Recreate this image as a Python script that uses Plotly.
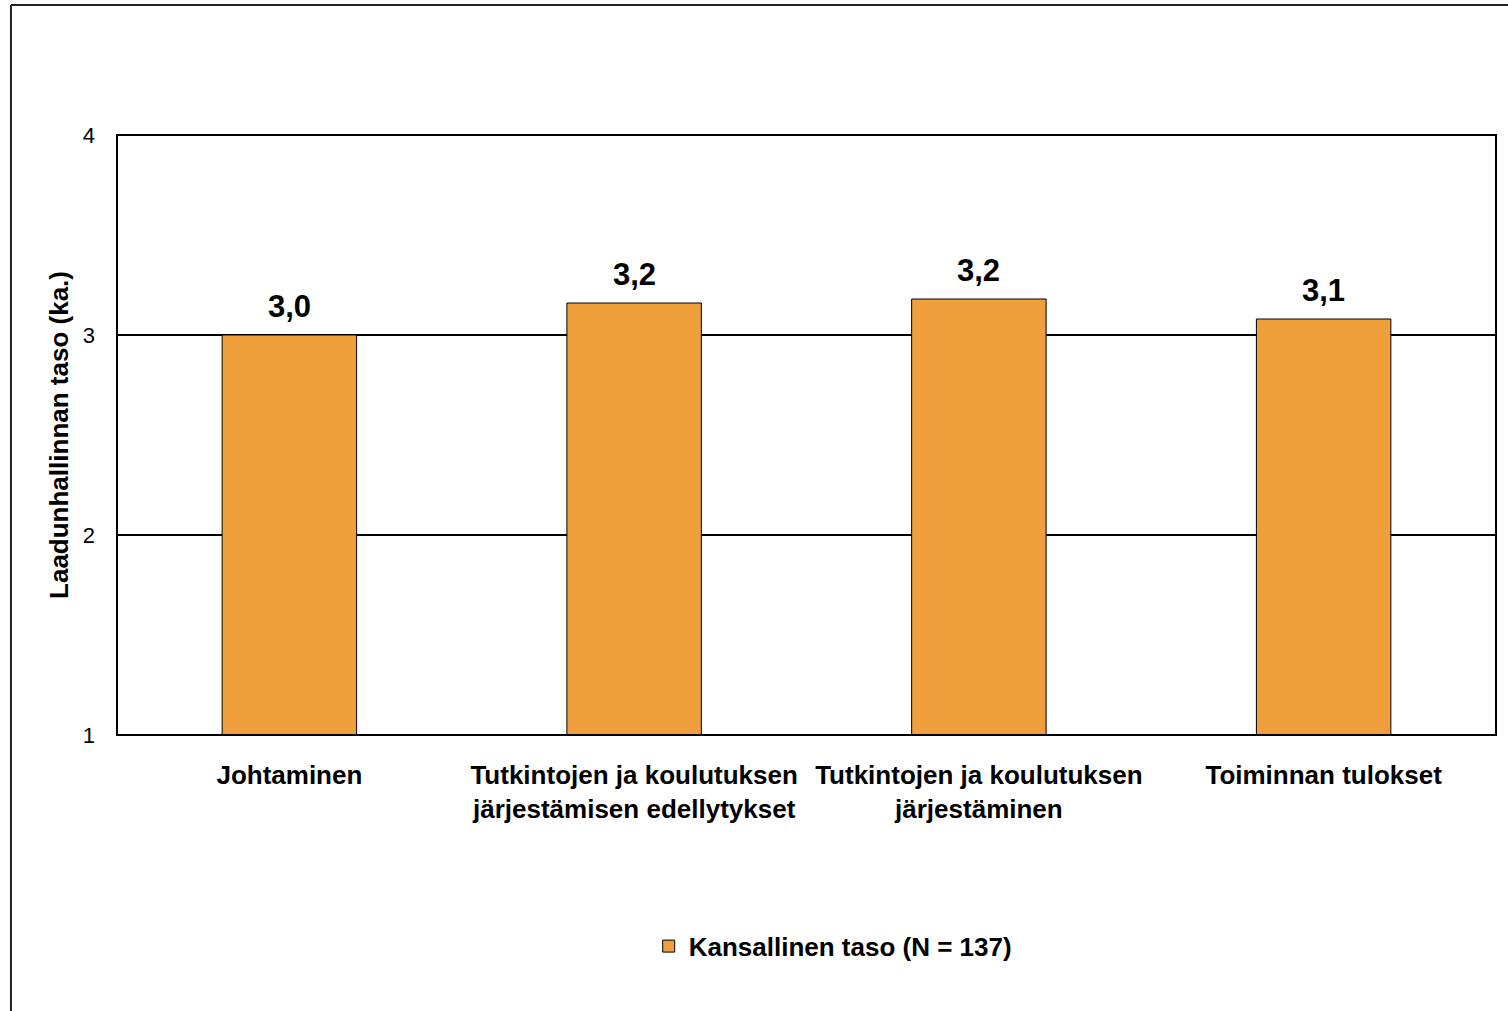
import plotly.graph_objects as go

# data
categories = [
    "Johtaminen",
    "Tutkintojen ja koulutuksen<br>järjestämisen edellytykset",
    "Tutkintojen ja koulutuksen<br>järjestäminen",
    "Toiminnan tulokset",
]
values = [3.0, 3.16, 3.18, 3.08]
series_name = "Kansallinen taso (N = 137)"
y_ticks = [1, 2, 3, 4]

FONT = "Liberation Sans, Arial, sans-serif"
BAR = "#EFA03D"

fig = go.Figure()
fig.add_trace(go.Bar(
    x=categories,
    y=values,
    name="<b>" + series_name + "</b>",
    base=0,
    marker=dict(color=BAR, line=dict(color="black", width=1)),
    width=0.39,
    showlegend=True,
))

# value labels above bars
for c, v in zip(categories, values):
    fig.add_annotation(x=c, y=v, xref="x", yref="y", text="<b>%s</b>" % f"{v:.1f}".replace(".", ","),
                       showarrow=False, yanchor="bottom", yshift=9,
                       font=dict(family=FONT, size=31, color="black"))

fig.update_layout(
    width=1508, height=1011,
    margin=dict(l=117, r=12, t=135, b=276),
    paper_bgcolor="white",
    plot_bgcolor="white",
    font=dict(family=FONT, color="black"),
    showlegend=True,
    legend=dict(
        orientation="h", x=0.519, xanchor="center", y=-0.352, yanchor="middle",
        font=dict(family=FONT, size=26, color="black"),
    ),
    xaxis=dict(
        showgrid=False, ticks="", showline=False, tickangle=0, automargin=False,
        tickfont=dict(family=FONT, size=26, color="black"),
        tickprefix="<b>", ticksuffix="</b>",
        ticklabelstandoff=22,
    ),
    yaxis=dict(
        range=[1, 4], tickvals=y_ticks, automargin=False,
        showgrid=True, gridcolor="black", gridwidth=1.5,
        zeroline=False, showline=False, ticks="",
        tickfont=dict(family=FONT, size=22, color="black"),
        ticklabelstandoff=21,
        title=dict(text="<b>Laadunhallinnan taso (ka.)</b>",
                   font=dict(family=FONT, size=26, color="black"), standoff=6),
    ),
)

# plot area border
fig.add_shape(type="rect", xref="paper", yref="paper", x0=0, x1=1, y0=0, y1=1,
              line=dict(color="black", width=2), layer="above")
# outer chart frame (top and left edges are visible in the picture)
fig.add_shape(type="line", xref="paper", yref="paper", x0=-0.0769, x1=1.03, y0=1.2167, y1=1.2167,
              line=dict(color="#222222", width=2))
fig.add_shape(type="line", xref="paper", yref="paper", x0=-0.0769, x1=-0.0769, y0=1.2167, y1=-0.5,
              line=dict(color="#222222", width=2))

fig.write_html("out.html", config={"displayModeBar": False},
               post_script="document.body.style.margin='0';")
